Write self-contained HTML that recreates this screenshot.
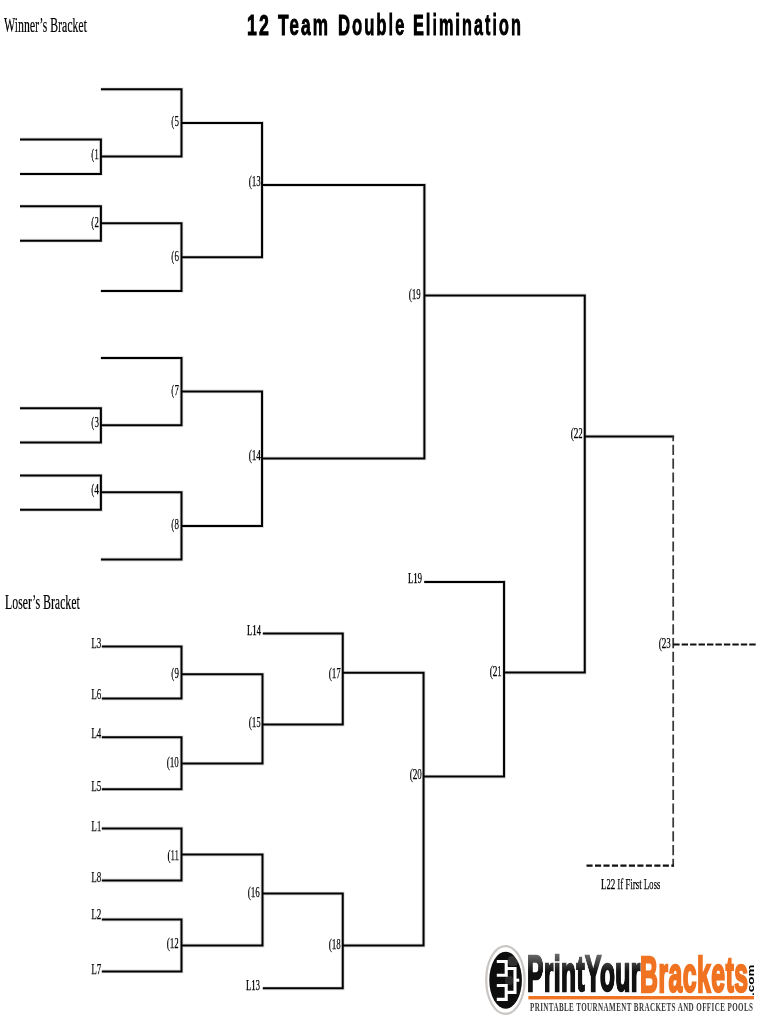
<!DOCTYPE html>
<html><head><meta charset="utf-8"><style>
html,body{margin:0;padding:0;background:#fff;}
.lb,.hd,.title,.lg{will-change:transform;}
body{width:770px;height:1024px;position:relative;overflow:hidden;}
.lb{position:absolute;font-family:"Liberation Serif",serif;font-size:15.5px;line-height:16px;color:#000;-webkit-text-stroke:0.25px #000;transform:scaleX(0.6);transform-origin:right center;white-space:nowrap;}
.hd{position:absolute;font-family:"Liberation Serif",serif;font-size:20px;line-height:22px;color:#000;-webkit-text-stroke:0.2px #000;transform:scaleX(0.59);transform-origin:left top;white-space:nowrap;}
.title{position:absolute;left:246.6px;top:8.2px;font-family:"Liberation Sans",sans-serif;font-weight:bold;font-size:30.4px;line-height:33px;letter-spacing:3.6px;-webkit-text-stroke:0.9px #000;color:#000;transform:scaleX(0.57);transform-origin:left top;white-space:nowrap;}
svg{position:absolute;left:0;top:0;}
.lg{position:absolute;font-family:'Liberation Sans',sans-serif;font-weight:bold;font-size:49.5px;line-height:55px;letter-spacing:1px;-webkit-text-stroke:2.5px currentColor;transform-origin:left top;white-space:nowrap;}
</style></head><body>
<div class="hd" style="left:4.4px;top:13.5px">Winner’s Bracket</div>
<div class="hd" style="left:4.8px;top:591px">Loser’s Bracket</div>
<div class="title" style="left:246.85px;transform:scaleX(0.585)">12</div><div class="title" style="left:278px;transform:scaleX(0.567)">Team</div><div class="title" style="left:338.15px;transform:scaleX(0.5483)">Double</div><div class="title" style="left:412.5px;transform:scaleX(0.5399)">Elimination</div>
<svg width="770" height="1024" viewBox="0 0 770 1024">
<g fill="none" stroke="#dedede" stroke-width="3.8" stroke-linejoin="miter" stroke-linecap="butt">
<path d="M20.0 139.45H100.9V173.9H20.0"/>
<path d="M20.0 206.3H100.9V240.7H20.0"/>
<path d="M20.0 408.2H100.9V442.4H20.0"/>
<path d="M20.0 475.6H100.9V509.8H20.0"/>
<path d="M100.9 89.3H181.5V156.4H100.9"/>
<path d="M100.9 223.3H181.5V290.9H100.9"/>
<path d="M100.9 358.0H181.5V425.2H100.9"/>
<path d="M100.9 492.3H181.5V559.5H100.9"/>
<path d="M181.5 122.9H262.05V257.2H181.5"/>
<path d="M181.5 391.4H262.05V526.0H181.5"/>
<path d="M262.05 185.0H424.4V458.4H262.05"/>
<path d="M424.4 295.45H584.75V672.6H504.05"/>
<path d="M584.75 436.5H674.1"/>
<path d="M101.80000000000001 646.6H181.5V698.6H101.80000000000001"/>
<path d="M101.80000000000001 737.3H181.5V789.2H101.80000000000001"/>
<path d="M181.5 674.3H262.5V763.6H181.5"/>
<path d="M262.8 633.6H342.75V724.6H262.5"/>
<path d="M101.80000000000001 828.5H181.5V880.5H101.80000000000001"/>
<path d="M101.80000000000001 919.5H181.5V971.4H101.80000000000001"/>
<path d="M181.5 854.6H262.5V945.5H181.5"/>
<path d="M262.8 988.3H342.75V893.6H262.5"/>
<path d="M342.75 945.5H423.55V672.7H342.75"/>
<path d="M424.2 581.9H504.05V776.6H423.55"/>
</g>
<g fill="none" stroke="#000" stroke-width="2.0" stroke-linejoin="miter" stroke-linecap="butt">
<path d="M20.0 139.45H100.9V173.9H20.0"/>
<path d="M20.0 206.3H100.9V240.7H20.0"/>
<path d="M20.0 408.2H100.9V442.4H20.0"/>
<path d="M20.0 475.6H100.9V509.8H20.0"/>
<path d="M100.9 89.3H181.5V156.4H100.9"/>
<path d="M100.9 223.3H181.5V290.9H100.9"/>
<path d="M100.9 358.0H181.5V425.2H100.9"/>
<path d="M100.9 492.3H181.5V559.5H100.9"/>
<path d="M181.5 122.9H262.05V257.2H181.5"/>
<path d="M181.5 391.4H262.05V526.0H181.5"/>
<path d="M262.05 185.0H424.4V458.4H262.05"/>
<path d="M424.4 295.45H584.75V672.6H504.05"/>
<path d="M584.75 436.5H674.1"/>
<path d="M101.80000000000001 646.6H181.5V698.6H101.80000000000001"/>
<path d="M101.80000000000001 737.3H181.5V789.2H101.80000000000001"/>
<path d="M181.5 674.3H262.5V763.6H181.5"/>
<path d="M262.8 633.6H342.75V724.6H262.5"/>
<path d="M101.80000000000001 828.5H181.5V880.5H101.80000000000001"/>
<path d="M101.80000000000001 919.5H181.5V971.4H101.80000000000001"/>
<path d="M181.5 854.6H262.5V945.5H181.5"/>
<path d="M262.8 988.3H342.75V893.6H262.5"/>
<path d="M342.75 945.5H423.55V672.7H342.75"/>
<path d="M424.2 581.9H504.05V776.6H423.55"/>
</g>
<path d="M673.2 436.5V866.6" fill="none" stroke="#383838" stroke-width="1.75" stroke-dasharray="10.2 3.6" stroke-dashoffset="5.5"/>
<path d="M586.5 865.6H674" fill="none" stroke="#111" stroke-width="2.1" stroke-dasharray="6.1 2.38"/>
<path d="M673.2 644.5H756" fill="none" stroke="#111" stroke-width="2.1" stroke-dasharray="6.4 2.05"/>
</svg>
<div class="lb" style="right:590.96px;top:113.20px;transform:scaleX(0.6)">(5</div>
<div class="lb" style="right:670.67px;top:145.94px;transform:scaleX(0.6)">(1</div>
<div class="lb" style="right:509.40px;top:173.12px;transform:scaleX(0.575)">(13</div>
<div class="lb" style="right:670.66px;top:214.28px;transform:scaleX(0.6)">(2</div>
<div class="lb" style="right:590.89px;top:247.61px;transform:scaleX(0.6)">(6</div>
<div class="lb" style="right:348.85px;top:285.89px;transform:scaleX(0.575)">(19</div>
<div class="lb" style="right:591.21px;top:381.80px;transform:scaleX(0.6)">(7</div>
<div class="lb" style="right:671.22px;top:414.20px;transform:scaleX(0.6)">(3</div>
<div class="lb" style="right:509.76px;top:447.23px;transform:scaleX(0.575)">(14</div>
<div class="lb" style="right:671.47px;top:481.33px;transform:scaleX(0.6)">(4</div>
<div class="lb" style="right:591.29px;top:515.66px;transform:scaleX(0.6)">(8</div>
<div class="lb" style="right:187.30px;top:425.23px;transform:scaleX(0.575)">(22</div>
<div class="lb" style="right:99.80px;top:634.76px;transform:scaleX(0.575)">(23</div>
<div class="lb" style="right:591.32px;top:664.58px;transform:scaleX(0.6)">(9</div>
<div class="lb" style="right:509.78px;top:713.84px;transform:scaleX(0.575)">(15</div>
<div class="lb" style="right:429.53px;top:664.80px;transform:scaleX(0.575)">(17</div>
<div class="lb" style="right:591.10px;top:754.11px;transform:scaleX(0.575)">(10</div>
<div class="lb" style="right:348.51px;top:766.36px;transform:scaleX(0.575)">(20</div>
<div class="lb" style="right:268.40px;top:662.57px;transform:scaleX(0.575)">(21</div>
<div class="lb" style="right:590.66px;top:846.87px;transform:scaleX(0.575)">(11</div>
<div class="lb" style="right:510.10px;top:884.32px;transform:scaleX(0.575)">(16</div>
<div class="lb" style="right:590.89px;top:934.97px;transform:scaleX(0.575)">(12</div>
<div class="lb" style="right:429.84px;top:935.69px;transform:scaleX(0.575)">(18</div>
<div class="lb" style="right:669.16px;top:634.76px;transform:scaleX(0.57)">L3</div>
<div class="lb" style="right:669.10px;top:685.56px;transform:scaleX(0.57)">L6</div>
<div class="lb" style="right:669.08px;top:725.30px;transform:scaleX(0.57)">L4</div>
<div class="lb" style="right:668.97px;top:778.27px;transform:scaleX(0.57)">L5</div>
<div class="lb" style="right:509.31px;top:622.39px;transform:scaleX(0.56)">L14</div>
<div class="lb" style="right:347.62px;top:570.45px;transform:scaleX(0.56)">L19</div>
<div class="lb" style="right:669.09px;top:818.32px;transform:scaleX(0.57)">L1</div>
<div class="lb" style="right:668.80px;top:868.71px;transform:scaleX(0.57)">L8</div>
<div class="lb" style="right:668.55px;top:906.40px;transform:scaleX(0.57)">L2</div>
<div class="lb" style="right:668.73px;top:960.80px;transform:scaleX(0.57)">L7</div>
<div class="lb" style="right:510.06px;top:977.08px;transform:scaleX(0.56)">L13</div>
<div class="lb" style="left:600.6px;top:876.0px;transform-origin:left center;transform:scaleX(0.568)">L22 If First Loss</div>
<svg width="770" height="1024" viewBox="0 0 770 1024">
<ellipse cx="505.4" cy="980" rx="19.2" ry="33.9" fill="none" stroke="#c9c6c4" stroke-width="2.2"/>
<ellipse cx="505.6" cy="980.2" rx="16.3" ry="28.5" fill="#0d0d0d"/>
<g fill="none" stroke="#fff" stroke-width="3.1" stroke-linejoin="miter">
<path d="M496.8 961.5H506.2V975.2H496.8"/>
<path d="M506.2 968.5H515V992.4H506.2"/>
<path d="M515 980.2H519.2"/>
<path d="M496.8 985.5H506.2V999.4H496.8"/>
</g>
<rect x="528.4" y="996" width="225.6" height="3.4" fill="#f07322"/>
</svg>
<div class="lg" style="left:527.4px;top:946px;color:#111;transform:scaleX(0.493)">PrintYour</div>
<div class="lg" style="left:639.5px;top:947px;color:#f07322;transform:scaleX(0.5)">Brackets</div>
<div style="position:absolute;left:527px;top:952px;width:113px;height:20px;background:linear-gradient(to bottom,rgba(255,255,255,0.42) 0%,rgba(255,255,255,0.28) 35%,rgba(255,255,255,0.0) 100%)"></div>
<div style="position:absolute;left:508px;top:956px;width:10px;height:10px;border-radius:40%;background:rgba(255,255,255,0.15)"></div>
<div style="position:absolute;left:505px;top:976px;width:8px;height:9px;border-radius:40%;background:rgba(255,255,255,0.12)"></div>
<div style="position:absolute;left:745.5px;top:995.5px;font-family:'Liberation Sans',sans-serif;font-weight:bold;font-size:9.6px;line-height:10px;color:#000;transform:rotate(-90deg) scaleX(1.4);transform-origin:left top;white-space:nowrap">.com</div>
<div style="position:absolute;left:530.4px;top:1000.3px;font-family:'Liberation Serif',serif;font-weight:bold;font-size:12.2px;line-height:14px;letter-spacing:0.7px;color:#3a3a3a;transform:scaleX(0.578);transform-origin:left top;white-space:nowrap">PRINTABLE TOURNAMENT BRACKETS AND OFFICE POOLS</div>

</body></html>
